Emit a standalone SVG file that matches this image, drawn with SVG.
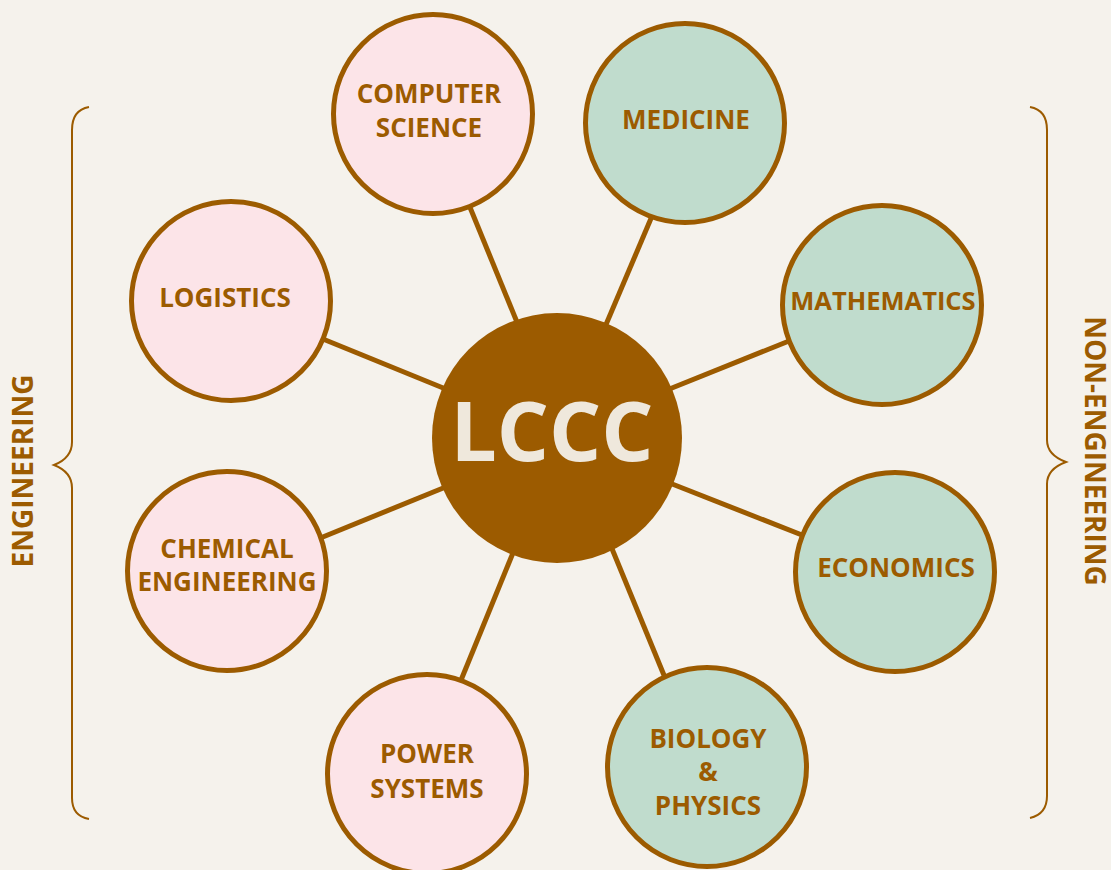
<svg xmlns="http://www.w3.org/2000/svg" width="1111" height="870" viewBox="0 0 1111 870">
<style>
.bg{fill:#f5f2ec}
.conn line{stroke:#9c5b00;stroke-width:5;stroke-linecap:butt}
.eng{fill:#fce4e8;stroke:#9c5b00;stroke-width:5}
.non{fill:#c0dccd;stroke:#9c5b00;stroke-width:5}
.lbl{font-family:"Open Sans","Liberation Sans",sans-serif;font-weight:700;font-size:26px;fill:#9c5b00;text-anchor:middle}
.side{font-family:"Open Sans","Liberation Sans",sans-serif;font-weight:700;font-size:28px;fill:#9c5b00;text-anchor:middle}
.brace{fill:none;stroke:#9c5b00;stroke-width:2}
</style>
<rect class="bg" x="0" y="0" width="1111" height="870"/>
<g id="braces">
<path class="brace" d="M89 107 Q72 110 72 130 L72 442 Q72 458 54 465 Q72 472 72 488 L72 798 Q72 816 89 819"/>
<path class="brace" d="M1030 107 Q1047 110 1047 130 L1047 440 Q1047 455 1066 462 Q1047 469 1047 484 L1047 796 Q1047 814 1030 818"/>
<text class="side" transform="translate(33 471) rotate(-90)">ENGINEERING</text>
<text class="side" transform="translate(1085 451) rotate(90)">NON-ENGINEERING</text>
</g>
<g id="connectors" class="conn">
<line x1="521" y1="332" x2="467" y2="200"/>
<line x1="602" y1="334" x2="655" y2="209"/>
<line x1="453" y1="392" x2="318" y2="337"/>
<line x1="662" y1="392" x2="799" y2="337"/>
<line x1="453" y1="484" x2="313" y2="541"/>
<line x1="662" y1="480" x2="807" y2="537"/>
<line x1="517" y1="543" x2="457" y2="690"/>
<line x1="608" y1="539" x2="668" y2="685"/>
</g>
<g id="node-cs"><circle class="eng" cx="433" cy="114" r="99.5"/><text class="lbl" x="429" y="103">COMPUTER</text><text class="lbl" x="429" y="137">SCIENCE</text></g>
<g id="node-medicine"><circle class="non" cx="685" cy="123" r="99.5"/><text class="lbl" x="686" y="129">MEDICINE</text></g>
<g id="node-logistics"><circle class="eng" cx="231" cy="301" r="99.5"/><text class="lbl" x="225" y="307">LOGISTICS</text></g>
<g id="node-math"><circle class="non" cx="882" cy="305" r="99.5"/><text class="lbl" x="883" y="310" style="font-size:25.5px">MATHEMATICS</text></g>
<g id="node-chem"><circle class="eng" cx="227" cy="571" r="99.5"/><text class="lbl" x="227" y="558">CHEMICAL</text><text class="lbl" x="227" y="591">ENGINEERING</text></g>
<g id="node-econ"><circle class="non" cx="895" cy="572" r="99.5"/><text class="lbl" x="896" y="577">ECONOMICS</text></g>
<g id="node-power"><circle class="eng" cx="427" cy="774" r="99.5"/><text class="lbl" x="427" y="763">POWER</text><text class="lbl" x="427" y="798">SYSTEMS</text></g>
<g id="node-bio"><circle class="non" cx="707" cy="767" r="99.5"/><text class="lbl" x="708" y="748">BIOLOGY</text><text class="lbl" x="708" y="781">&amp;</text><text class="lbl" x="708" y="815">PHYSICS</text></g>
<g id="node-lccc"><circle cx="557" cy="438" r="125" fill="#9c5b00"/><text x="552" y="461" font-family="'Open Sans','Liberation Sans',sans-serif" font-weight="700" font-size="82" fill="#efe8dc" text-anchor="middle">LCCC</text></g>
</svg>
